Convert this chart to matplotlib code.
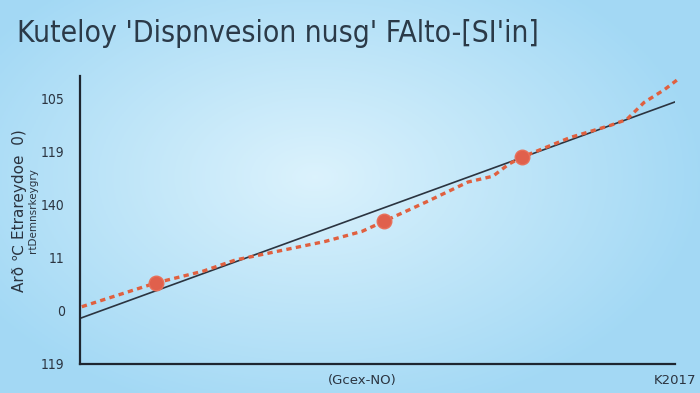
import numpy as np
import matplotlib
matplotlib.use("Agg")
import matplotlib.pyplot as plt

# -----------------------------
# Data
# -----------------------------

trend_x = [0, 100]
trend_y = [0.86, 4.94]

curve_x = [0.3, 12.8, 20.7, 26.1, 34.3, 41.2, 47.4, 51.1, 58.3, 65.2,
           69.4, 72.1, 74.3, 82.4, 89.2, 91.9, 94.8, 98.2, 100.3]
curve_y = [1.08, 1.53, 1.75, 1.96, 2.15, 2.31, 2.50, 2.69, 3.06, 3.43,
           3.54, 3.77, 3.90, 4.27, 4.50, 4.61, 4.93, 5.17, 5.35]

marker_x = [12.8, 51.1, 74.3]
marker_y = [1.53, 2.69, 3.90]

y_ticks = [0, 1, 2, 3, 4, 5]
y_ticklabels = ["119", "0", "11", "140", "119", "105"]

x_ticks = [47.4, 100]
x_ticklabels = ["(Gcex-NO)", "K2017"]

title = "Kuteloy 'Dispnvesion nusg' FAlto-[SI'in]"
ylabel_main = "Arð ℃ Etrareydoe  0)"
ylabel_sub = "rtDemnsrkeygry"

# -----------------------------
# Plot
# -----------------------------

plt.rcParams['font.family'] = ['DejaVu Sans']

fig = plt.figure(figsize=(7, 3.93), dpi=100)

# radial light-blue background
bg = fig.add_axes([0, 0, 1, 1], zorder=-10)
gx, gy = np.meshgrid(np.linspace(-1, 1, 350), np.linspace(-1, 1, 200))
r = np.sqrt(((gx + 0.1) * 0.9) ** 2 + ((gy + 0.1) * 0.8) ** 2)
r = np.clip(r, 0, 1)
c0 = np.array([0.86, 0.95, 0.99])
c1 = np.array([0.64, 0.85, 0.96])
img = c0[None, None, :] * (1 - r[..., None]) + c1[None, None, :] * r[..., None]
bg.imshow(img, aspect="auto", extent=[0, 1, 0, 1])
bg.axis("off")

ax = fig.add_axes([0.1143, 0.0738, 0.85, 0.733])
ax.patch.set_alpha(0)

ax.plot(trend_x, trend_y, color="#2b3440", linewidth=1.2, zorder=2)
ax.plot(curve_x, curve_y, color="#e0603f", linewidth=2.4,
        linestyle=(0, (1.6, 1.3)), zorder=3, clip_on=False)
ax.scatter(marker_x, marker_y, s=110, color="#e0604c", zorder=4,
           edgecolors="#e8705a", linewidths=1)

ax.set_xlim(0, 100)
ax.set_ylim(0.056, 5.43)

ax.set_yticks(y_ticks)
ax.set_yticklabels(y_ticklabels, fontsize=10, color="#2b3440",
                   fontstretch="condensed")
ax.set_xticks(x_ticks)
ax.set_xticklabels(x_ticklabels, fontsize=9.5, color="#2b3440")
ax.tick_params(axis="both", length=0)
ax.tick_params(axis="y", pad=11)
ax.tick_params(axis="x", pad=7)

for side in ["top", "right"]:
    ax.spines[side].set_visible(False)
for side in ["left", "bottom"]:
    ax.spines[side].set_color("#1e2630")
    ax.spines[side].set_linewidth(1.6)

fig.text(0.028, 0.465, ylabel_main, rotation=90, ha="center", va="center",
         fontsize=11, color="#2b3440")
fig.text(0.047, 0.465, ylabel_sub, rotation=90, ha="center", va="center",
         fontsize=7.5, color="#2b3440")

fig.text(0.024, 0.915, title, ha="left", va="center", fontsize=21.5,
         color="#2b3a48", fontstretch="condensed")

fig.savefig("out.png", dpi=100)
